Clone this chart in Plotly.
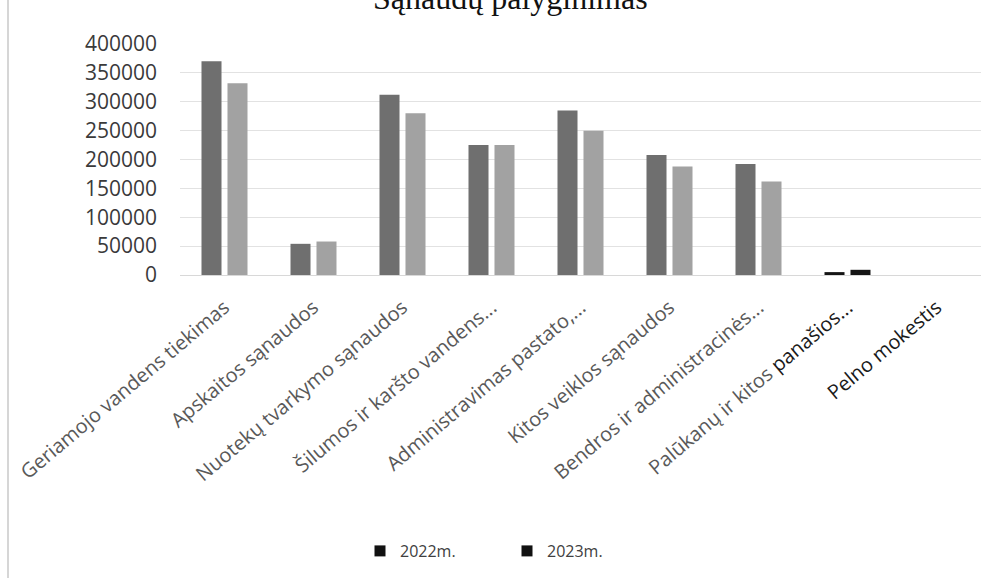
import plotly.graph_objects as go

categories = [
    "Geriamojo vandens tiekimas",
    "Apskaitos sąnaudos",
    "Nuotekų tvarkymo sąnaudos",
    "Šilumos ir karšto vandens...",
    "Administravimas pastato,...",
    "Kitos veiklos sąnaudos",
    "Bendros ir administracinės...",
    "Palūkanų ir kitos panašios...",
    "Pelno mokestis",
]
values_2022 = [370000, 54000, 312000, 225000, 285000, 208000, 192000, 5000, 0]
values_2023 = [332000, 58000, 280000, 225000, 250000, 188000, 162000, 9000, 0]
series_names = ["2022m.", "2023m."]
y_ticks = [0, 50000, 100000, 150000, 200000, 250000, 300000, 350000, 400000]

colors_2022 = ["#6f6f6f"] * 7 + ["#151515", "#151515"]
colors_2023 = ["#a2a2a2"] * 7 + ["#151515", "#151515"]

FONT = "Open Sans"

# tick labels (last ones appear darker in the scan)
tick_text = list(categories)
tick_text[7] = "Palūkanų ir kitos <span style='fill:#1a1a1a'>panašios...</span>"
tick_text[8] = "<span style='fill:#1a1a1a'>Pelno mokestis</span>"

fig = go.Figure()
fig.add_trace(go.Bar(x=categories, y=values_2022, name=series_names[0],
                     marker=dict(color=colors_2022, line=dict(width=0)), showlegend=False))
fig.add_trace(go.Bar(x=categories, y=values_2023, name=series_names[1],
                     marker=dict(color=colors_2023, line=dict(width=0)), showlegend=False))
for nm in series_names:
    fig.add_trace(go.Scatter(x=[None], y=[None], mode="markers", name=nm,
                             marker=dict(symbol="square", color="#111111", size=11)))

W, H = 1001, 578
ml, mr, mt, mb = 180, 20, 44, 303
pw = W - ml - mr
ph = H - mt - mb

fig.update_layout(
    width=W, height=H,
    margin=dict(l=ml, r=mr, t=mt, b=mb, autoexpand=False),
    paper_bgcolor="white", plot_bgcolor="white",
    barmode="group", bargap=0.416, bargroupgap=0.23,
    font=dict(family=FONT, color="#595959", size=18),
    showlegend=True,
    legend=dict(orientation="h", x=(360 - ml) / pw, xanchor="left",
                y=(275 - 551) / ph, yanchor="middle",
                font=dict(size=16, color="#404040"), itemwidth=30,
                entrywidth=102, entrywidthmode="pixels",
                traceorder="normal"),
)
fig.update_yaxes(range=[0, 400000], tickvals=y_ticks, ticktext=[str(v) for v in y_ticks],
                 showgrid=True, gridcolor="#e2e2e2", gridwidth=1, zeroline=True,
                 zerolinecolor="#d8d8d8", zerolinewidth=1, showline=False,
                 tickfont=dict(size=21, color="#3a3a3a", family=FONT), ticklabelstandoff=22)
fig.update_xaxes(tickangle=-40, tickvals=categories, ticktext=tick_text,
                 tickfont=dict(size=20, color="#595959", family=FONT),
                 showline=False, showgrid=False, ticklabelstandoff=16, automargin=False)

fig.add_annotation(text="Sąnaudų palyginimas", xref="paper", yref="paper",
                   x=(510 - ml) / pw, xanchor="center",
                   y=(275 - 18) / ph, yanchor="bottom", showarrow=False,
                   font=dict(family="Liberation Serif", size=32, color="#111111"))
fig.add_shape(type="line", xref="paper", yref="paper",
              x0=(8 - ml) / pw, x1=(8 - ml) / pw,
              y0=(275 - 0) / ph, y1=(275 - 578) / ph,
              line=dict(color="#d6d6d6", width=2))

fig.write_html("out.html", config={"displayModeBar": False},
               post_script="document.body.style.margin='0';")
